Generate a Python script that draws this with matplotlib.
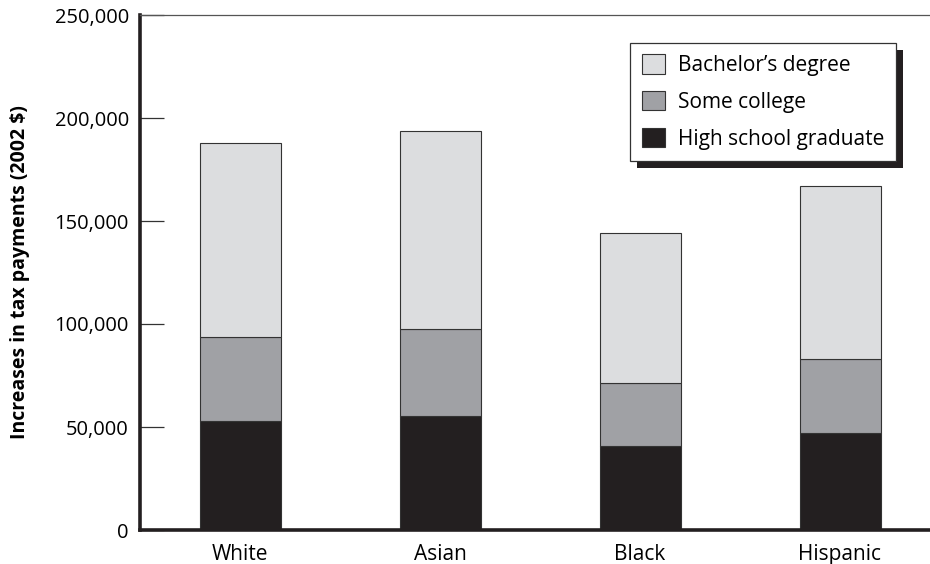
import numpy as np
import matplotlib
matplotlib.use("Agg")
import matplotlib.pyplot as plt
import matplotlib.patheffects as pe
from matplotlib.ticker import FuncFormatter

plt.rcParams['font.family'] = ['Open Sans', 'DejaVu Sans']

groups = ["White", "Asian", "Black", "Hispanic"]
high_school = [53000, 55500, 41000, 47000]
some_college = [40500, 42000, 30200, 35800]
bachelors = [94500, 96000, 72800, 84200]

series = [
    ("High school graduate", high_school, "#231f20"),
    ("Some college", some_college, "#a0a1a5"),
    ("Bachelor\u2019s degree", bachelors, "#dcdddf"),
]

fig = plt.figure(figsize=(9.3, 5.64), dpi=100)
ax = fig.add_axes([140 / 930, 34 / 564, 790 / 930, 515 / 564])

x = np.arange(len(groups))
bottom = np.zeros(len(groups))
handles = []
for label, vals, color in series:
    bars = ax.bar(x, vals, width=0.405, bottom=bottom, color=color,
                  edgecolor="#333333", linewidth=0.8, label=label, zorder=2)
    handles.append(bars)
    bottom += np.array(vals)

ax.set_xlim(-0.5, 3.45)
ax.set_ylim(0, 250000)
ax.set_yticks([0, 50000, 100000, 150000, 200000, 250000])
ax.yaxis.set_major_formatter(FuncFormatter(lambda v, p: f"{int(v):,}"))
ax.set_xticks(x)
ax.set_xticklabels(groups)

ax.tick_params(axis="y", direction="in", length=17, width=0.9, color="#333333",
               labelsize=14.5, pad=8)
ax.tick_params(axis="x", length=0, labelsize=15, pad=10)

ax.spines["right"].set_visible(False)
ax.spines["left"].set_linewidth(2.6)
ax.spines["bottom"].set_linewidth(2.6)
ax.spines["left"].set_color("#231f20")
ax.spines["bottom"].set_color("#231f20")
ax.spines["top"].set_linewidth(0.9)
ax.spines["top"].set_color("#555555")

ax.set_ylabel("Increases in tax payments (2002 $)", fontsize=14,
              fontweight="bold", labelpad=18)

leg = ax.legend(handles[::-1], [s[0] for s in series][::-1],
                loc="upper right", bbox_to_anchor=(0.957, 0.946),
                borderaxespad=0, fontsize=15, frameon=True, fancybox=False,
                handlelength=1.1, handleheight=1.05, handletextpad=0.65,
                labelspacing=0.72, borderpad=0.55)
frame = leg.get_frame()
frame.set_edgecolor("#333333")
frame.set_linewidth(0.9)
frame.set_facecolor("white")
frame.set_alpha(1)
frame.set_path_effects([
    pe.SimplePatchShadow(offset=(5, -5), shadow_rgbFace="#231f20", alpha=1),
    pe.Normal(),
])

fig.savefig("out.png", dpi=100)
